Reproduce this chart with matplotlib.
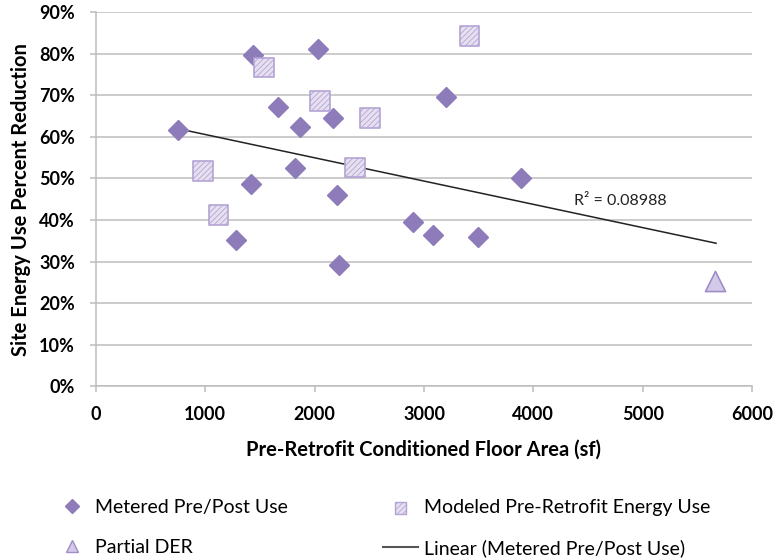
import numpy as np
import matplotlib
matplotlib.use("Agg")
from matplotlib import pyplot as plt
from matplotlib.lines import Line2D
from matplotlib.ticker import PercentFormatter

plt.rcParams['font.family'] = ['Lato', 'DejaVu Sans']
plt.rcParams['hatch.linewidth'] = 0.6

# metered pre/post use (floor area sf, % reduction)
metered_x = [755, 1434, 2030, 1667, 1865, 2168, 1820, 1416, 2202, 1278, 2223, 2902, 3080, 3492, 3199, 3890]
metered_y = [61.7, 79.7, 81.1, 67.3, 62.5, 64.6, 52.5, 48.7, 46.1, 35.1, 29.2, 39.5, 36.5, 36.0, 69.6, 50.0]

# modeled pre-retrofit energy use
modeled_x = [1535, 2049, 2505, 2367, 979, 1122, 3416]
modeled_y = [76.7, 68.6, 64.5, 52.6, 51.8, 41.2, 84.3]

# partial DER
partial_x = [5664]
partial_y = [25.2]

# excel linear trendline, end points
trend_x = [764, 5670]
trend_y = [61.9, 34.4]
r2_label = "R\u00b2 = 0.08988"

purple = '#8e7bb9'
light = '#e6e0f0'
edge = '#b4a4d4'

fig = plt.figure(figsize=(7.73, 5.58), dpi=100)
ax = fig.add_axes([0.124, 0.308, 0.849, 0.670])

ax.plot(trend_x, trend_y, color='#222222', lw=1.1, zorder=2)

ax.plot(metered_x, metered_y, ls='none', marker='D', ms=10.5, color=purple, mec=purple, zorder=3)
ax.scatter(modeled_x, modeled_y, marker='s', s=200, facecolor=light, edgecolor=edge,
           hatch='//////', linewidths=1.2, zorder=3)
ax.scatter(partial_x, partial_y, marker='^', s=210, facecolor='#d3c9e8', edgecolor='#a08ec8',
           linewidths=1.2, zorder=3)

ax.text(4370, 44.6, r2_label, fontsize=11.5, va='center', ha='left', color='#222222')

ax.set_xlim(0, 6000)
ax.set_ylim(0, 90)
ax.set_xticks(range(0, 6001, 1000))
ax.set_yticks(range(0, 91, 10))
ax.yaxis.set_major_formatter(PercentFormatter(decimals=0))
ax.grid(axis='y', color='#bdbdbd', lw=1.1)
ax.set_axisbelow(True)
for s in ['top', 'right']:
    ax.spines[s].set_visible(False)
for s in ['left', 'bottom']:
    ax.spines[s].set_color('#bdbdbd')
    ax.spines[s].set_linewidth(1.1)
ax.tick_params(axis='both', colors='#bdbdbd', length=4, width=1.1, labelcolor='black', labelsize=13)
ax.tick_params(axis='x', pad=10)
ax.tick_params(axis='y', pad=11)
for lbl in ax.get_xticklabels() + ax.get_yticklabels():
    lbl.set_fontweight('bold')

ax.set_xlabel('Pre-Retrofit Conditioned Floor Area (sf)', fontsize=14.5, fontweight='bold', labelpad=12)
ax.set_ylabel('Site Energy Use Percent Reduction', fontsize=14.5, fontweight='bold', labelpad=6)

handles = [
    Line2D([], [], ls='none', marker='D', ms=7, color=purple),
    Line2D([], [], ls='none', marker='^', ms=9, mfc='#d3c9e8', mec='#a08ec8'),
    ax.scatter([], [], marker='s', s=70, facecolor=light, edgecolor=edge, hatch='//////'),
    Line2D([], [], color='#555555', lw=1.5),
]
labels = ['Metered Pre/Post Use', 'Partial DER', 'Modeled Pre-Retrofit Energy Use',
          'Linear (Metered Pre/Post Use)']
fig.legend(handles, labels, ncol=2, loc='upper left', bbox_to_anchor=(0.06, 0.12),
           frameon=False, fontsize=14, handlelength=1.8, handletextpad=0.3,
           columnspacing=4.9, labelspacing=1.2, borderaxespad=0)

fig.savefig('out.png', dpi=100)
